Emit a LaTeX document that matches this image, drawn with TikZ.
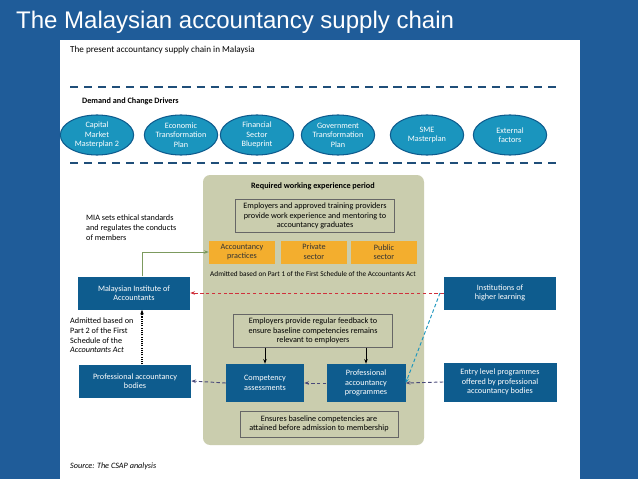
\documentclass[tikz,border=0pt]{standalone}
\usepackage{fontspec}
\setmainfont{Carlito}
\newfontfamily\titlefont{Liberation Sans}
\usetikzlibrary{shapes.geometric,arrows.meta}
\definecolor{slideblue}{HTML}{1F5C99}
\definecolor{boxblue}{HTML}{0E5C8E}
\definecolor{ovalteal}{HTML}{1A95BE}
\definecolor{panelgreen}{HTML}{CACDAE}
\definecolor{orangebox}{HTML}{F3AE2E}
\definecolor{dashblue}{HTML}{1F4E79}
\definecolor{arrowpurple}{HTML}{4A4A7A}
\definecolor{arrowred}{HTML}{D0303C}
\definecolor{arrowgreen}{HTML}{7C9A5E}
\newcommand{\chainsize}{\fontsize{7}{8.2}\selectfont}
\tikzset{
  driver/.style={ellipse,draw=boxblue,line width=0.9pt,fill=ovalteal,text=white,align=center,
    minimum width=2.2cm,minimum height=1.2cm,inner sep=0pt,font=\chainsize},
  bluebox/.style={rectangle,fill=boxblue,text=white,align=center,inner sep=1pt,font=\chainsize},
  orangebox/.style={rectangle,fill=orangebox,text=black!80,align=center,inner sep=1pt,
    minimum width=1.98cm,minimum height=0.69cm,font=\chainsize},
  notebox/.style={rectangle,draw=black!60,align=center,inner sep=1pt,font=\chainsize},
  note/.style={align=left,anchor=north west,font=\chainsize,inner sep=0pt},
  flow/.style={densely dashed,arrowpurple,line width=0.8pt,-{Stealth[length=4pt]}}
}
\begin{document}
\begin{tikzpicture}[x=0.03cm,y=-0.03cm]
        \useasboundingbox (0,0) rectangle (638,479);
        \fill[slideblue] (0,0) rectangle (638,479);
        \fill[white] (60,40) rectangle (580,479);
        \node[anchor=west,text=white,font=\titlefont\fontsize{20.5}{24}\selectfont] (title) at (12,22) {The Malaysian accountancy supply chain};
        \node[anchor=west,font=\fontsize{7.8}{9}\selectfont] (header) at (66,50) {The present accountancy supply chain in Malaysia};

        % demand and change drivers
        \draw[dashblue,line width=1.2pt,dash pattern=on 7pt off 5pt] (70,87) -- (560,87);
        \draw[dashblue,line width=1.2pt,dash pattern=on 7pt off 5pt] (70,163) -- (560,163);
        \node[anchor=west,font=\chainsize\bfseries] (drivers) at (78,101) {Demand and Change Drivers};
        \node[driver] (cmp) at (97,135) {Capital\\Market\\Masterplan 2};
        \node[driver] (etp) at (181,135) {Economic\\Transformation\\Plan};
        \node[driver] (fsb) at (257,135) {Financial\\Sector\\Blueprint};
        \node[driver] (gtp) at (338,135) {Government\\Transformation\\Plan};
        \node[driver] (sme) at (427,135) {SME\\Masterplan};
        \node[driver] (ext) at (510,135) {External\\factors};

        % working experience panel
        \fill[panelgreen,rounded corners=6pt] (203,175) rectangle (424,445);
        \node[font=\chainsize\bfseries] (period) at (313,186) {Required working experience period};
        \node[notebox,minimum width=4.77cm,minimum height=0.99cm] (employers) at (315,216) {Employers and approved training providers\\provide work experience and mentoring to\\accountancy graduates};
        \node[orangebox] (practices) at (242,252) {Accountancy\\practices};
        \node[orangebox] (private) at (314,252) {Private\\sector};
        \node[orangebox] (public) at (384,252) {Public\\sector};
        \node[font=\fontsize{6.2}{7}\selectfont] (part1) at (313,274) {Admitted based on Part 1 of the First Schedule of the Accountants Act};
        \node[notebox,minimum width=4.77cm,minimum height=0.99cm] (feedback) at (313,331) {Employers provide regular feedback to\\ensure baseline competencies remains\\relevant to employers};
        \node[bluebox,minimum width=2.34cm,minimum height=1.14cm] (competency) at (265,383) {Competency\\assessments};
        \node[bluebox,minimum width=2.37cm,minimum height=1.14cm] (programmes) at (366,383) {Professional\\accountancy\\programmes};
        \node[notebox,minimum width=4.74cm,minimum height=0.78cm] (ensures) at (319,424) {Ensures baseline competencies are\\attained before admission to membership};

        % outside boxes
        \node[bluebox,minimum width=3.36cm,minimum height=0.99cm] (mia) at (134,293) {Malaysian Institute of\\Accountants};
        \node[bluebox,minimum width=3.36cm,minimum height=0.99cm] (institutions) at (500,293) {Institutions of\\higher learning};
        \node[bluebox,minimum width=3.36cm,minimum height=0.99cm] (bodies) at (135,381) {Professional accountancy\\bodies};
        \node[bluebox,minimum width=3.39cm,minimum height=1.17cm] (entry) at (500,382) {Entry level programmes\\offered by professional\\accountancy bodies};
        \node[note] (ethics) at (86,215) {MIA sets ethical standards\\and regulates the conducts\\of members};
        \node[note] (part2) at (70,318) {Admitted based on\\Part 2 of the First\\Schedule of the\\\textit{Accountants Act}};
        \node[font=\chainsize\itshape,anchor=west] (source) at (66,466) {Source: The CSAP analysis};
        \coordinate (split) at (440,293);

        % connectors
        \draw[arrowgreen,line width=0.8pt,-{Stealth[length=4pt]}] (mia.north -| 142,0) |- (practices.west);
        \draw[densely dashed,arrowred,line width=0.8pt,-{Stealth[length=4pt]}] (institutions.west) -- (mia.east);
        \draw[densely dashed,ovalteal,line width=0.8pt,-{Stealth[length=4pt]}] (split) -- (programmes.east);
        \draw[black,line width=0.8pt,-{Stealth[length=4pt]}] (feedback.south -| competency) -- (competency.north);
        \draw[black,line width=0.8pt,-{Stealth[length=4pt]}] (feedback.south -| programmes) -- (programmes.north);
        \draw[flow] (entry.west) -- (programmes.east);
        \draw[flow] (programmes.west) -- (competency.east);
        \draw[flow] (competency.west) -- (bodies.east);
        \draw[densely dotted,black,line width=0.9pt,-{Stealth[length=4pt]}] (bodies.north -| 142,0) -- (mia.south -| 142,0);
\end{tikzpicture}
\end{document}
